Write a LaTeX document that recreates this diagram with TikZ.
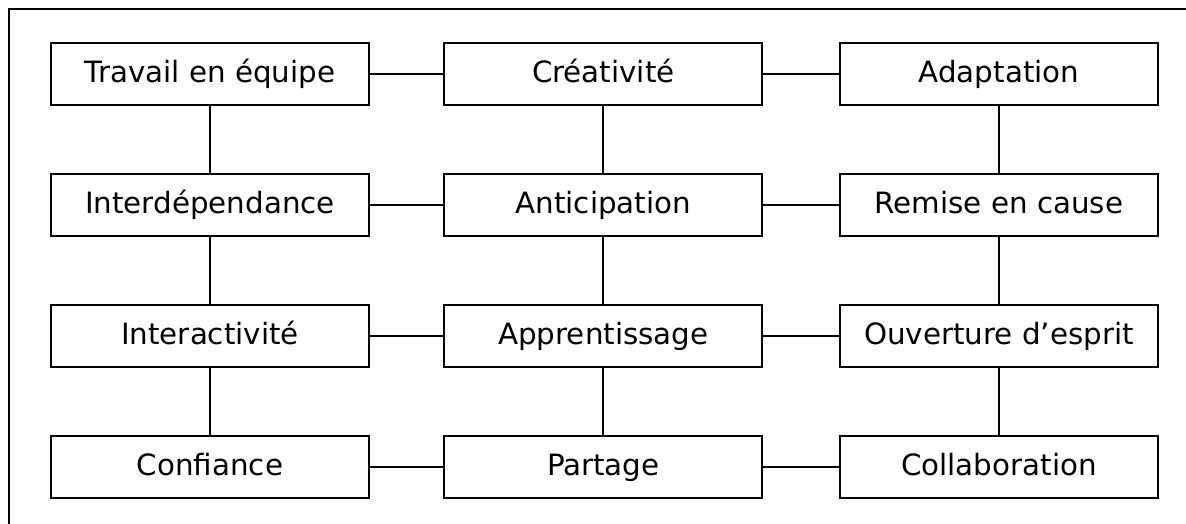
\documentclass[tikz,border=0pt]{standalone}
\usepackage{fontspec}
\setmainfont{DejaVu Sans}
\begin{document}
\begin{tikzpicture}[x=1pt, y=1pt, node distance=98.25pt,
        box/.style={rectangle, draw, line width=1.5pt, minimum width=238.5pt, minimum height=46.5pt, inner sep=0pt, text height=16pt, text depth=2.5pt, font=\fontsize{22}{26}\selectfont}]
        \useasboundingbox (0,0) rectangle (889.5,393);

        % Frame
        \draw[line width=1.5pt] (6.4,0) -- (6.4,386.6) -- (889.5,386.6);

        % Left column
        \node[box] (equipe) at (157.5,337.5) {Travail en équipe};
        \node[box, below of=equipe] (interdep) {Interdépendance};
        \node[box, below of=interdep] (interact) {Interactivité};
        \node[box, below of=interact] (confiance) {Confiance};

        % Middle column
        \node[box, right of=equipe, xshift=196.75pt] (creativite) {Créativité};
        \node[box, right of=interdep, xshift=196.75pt] (anticip) {Anticipation};
        \node[box, right of=interact, xshift=196.75pt] (apprent) {Apprentissage};
        \node[box, right of=confiance, xshift=196.75pt] (partage) {Partage};

        % Right column
        \node[box, right of=creativite, xshift=198.5pt] (adapt) {Adaptation};
        \node[box, right of=anticip, xshift=198.5pt] (remise) {Remise en cause};
        \node[box, right of=apprent, xshift=198.5pt] (ouverture) {Ouverture d’esprit};
        \node[box, right of=partage, xshift=198.5pt] (collab) {Collaboration};

        % Connections
        \draw[line width=1.5pt] (equipe) -- (creativite);
        \draw[line width=1.5pt] (creativite) -- (adapt);
        \draw[line width=1.5pt] (interdep) -- (anticip);
        \draw[line width=1.5pt] (anticip) -- (remise);
        \draw[line width=1.5pt] (interact) -- (apprent);
        \draw[line width=1.5pt] (apprent) -- (ouverture);
        \draw[line width=1.5pt] (confiance) -- (partage);
        \draw[line width=1.5pt] (partage) -- (collab);
        \draw[line width=1.5pt] (equipe) -- (interdep);
        \draw[line width=1.5pt] (interdep) -- (interact);
        \draw[line width=1.5pt] (interact) -- (confiance);
        \draw[line width=1.5pt] (creativite) -- (anticip);
        \draw[line width=1.5pt] (anticip) -- (apprent);
        \draw[line width=1.5pt] (apprent) -- (partage);
        \draw[line width=1.5pt] (adapt) -- (remise);
        \draw[line width=1.5pt] (remise) -- (ouverture);
        \draw[line width=1.5pt] (ouverture) -- (collab);
    \end{tikzpicture}
\end{document}
